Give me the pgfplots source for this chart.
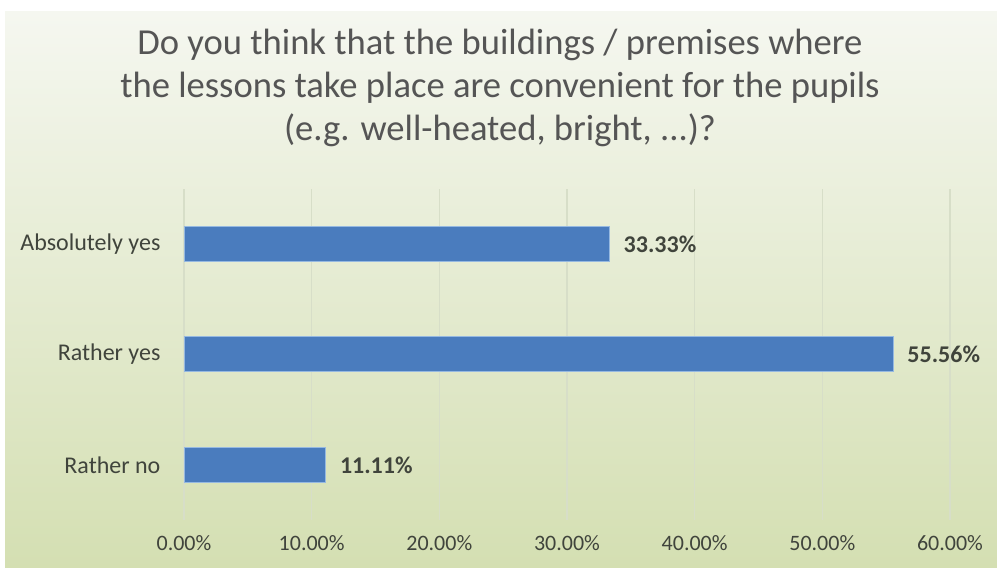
\documentclass[border=0pt]{standalone}
\usepackage{pgfplots}
\pgfplotsset{compat=1.18}
\usepackage{fontspec}
\setmainfont{Carlito}
\definecolor{bgtop}{RGB}{245,247,240}
\definecolor{bgbot}{RGB}{212,223,178}
\definecolor{barblue}{RGB}{74,124,190}
\definecolor{baredge}{RGB}{150,185,225}
\definecolor{txt}{RGB}{64,68,60}
\definecolor{ttl}{RGB}{85,85,85}
\definecolor{gridc}{RGB}{215,222,200}
\begin{document}
\begin{tikzpicture}
\fill[white] (0,0) rectangle (498.5pt,284pt);
\shade[top color=bgtop,bottom color=bgbot] (2.5pt,0pt) rectangle (498.5pt,278pt);
\node[align=center,text=ttl,font=\fontsize{18.3}{21.5}\selectfont] at (250pt,240pt)
 {Do you think that the buildings / premises where\\the lessons take place are convenient for the pupils\\(e.g. well-heated, bright, ...)?};
\begin{axis}[
  at={(92pt,24pt)}, anchor=south west,
  scale only axis, width=383pt, height=165.5pt,
  xbar, bar width=17.5pt,
  xmin=0, xmax=60, ymin=-0.5, ymax=2.5,
  xtick={0,10,20,30,40,50,60},
  xticklabels={0.00\%,10.00\%,20.00\%,30.00\%,40.00\%,50.00\%,60.00\%},
  ytick={0,1,2},
  yticklabels={Rather no,Rather yes,Absolutely yes},
  xmajorgrids, major grid style={gridc,line width=0.6pt},
  axis line style={draw=none},
  tick style={draw=none},
  /pgf/number format/assume math mode=true,
  xticklabel style={font=\fontsize{11}{13}\selectfont,text=txt,yshift=-4pt},
  yticklabel style={font=\fontsize{12}{14}\selectfont,text=txt,xshift=-4pt},
  nodes near coords={\pgfmathprintnumber[fixed,fixed zerofill,precision=2]{\pgfplotspointmeta}\%},
  nodes near coords style={font=\bfseries\fontsize{12}{14}\selectfont,text=txt,anchor=west,xshift=3.5pt},
  point meta=explicit,
]
\addplot[fill=barblue,draw=baredge,line width=0.5pt] coordinates {
  (11.11,0) [11.11]
  (55.56,1) [55.56]
  (33.33,2) [33.33]
};
\end{axis}
\end{tikzpicture}
\end{document}
